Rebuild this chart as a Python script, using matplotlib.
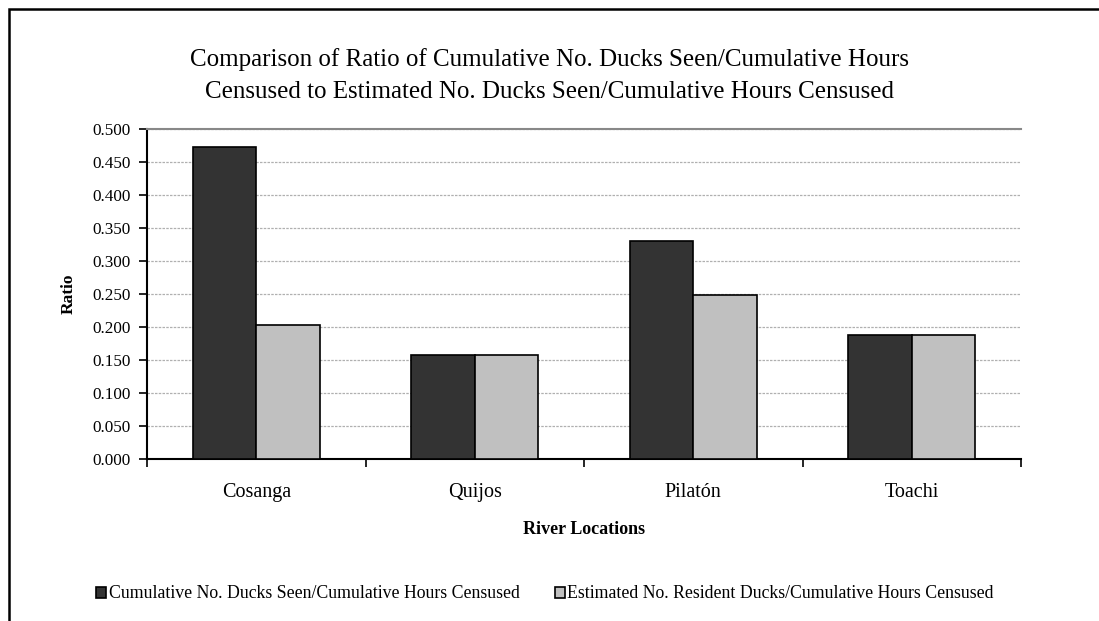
import matplotlib
matplotlib.use("Agg")
import matplotlib.pyplot as plt
import numpy as np
from matplotlib.patches import Rectangle

plt.rcParams["font.family"] = ["Liberation Serif", "DejaVu Serif"]

rivers = ["Cosanga", "Quijos", "Pilatón", "Toachi"]
seen_per_hour = [0.472, 0.157, 0.330, 0.188]
resident_per_hour = [0.203, 0.157, 0.248, 0.188]
series_names = [
    "Cumulative No. Ducks Seen/Cumulative Hours Censused",
    "Estimated No. Resident Ducks/Cumulative Hours Censused",
]
yticks = [0.0, 0.05, 0.1, 0.15, 0.2, 0.25, 0.3, 0.35, 0.4, 0.45, 0.5]

W, H = 1099, 621
fig = plt.figure(figsize=(W / 100, H / 100), dpi=100)
ax = fig.add_axes([147 / W, 1 - 459 / H, (1021 - 147) / W, (459 - 129) / H])

x = np.arange(len(rivers))
bw = 0.29
ax.bar(x - bw / 2, seen_per_hour, bw, color="#333333", edgecolor="black", linewidth=1.2,
       label=series_names[0], zorder=3)
ax.bar(x + bw / 2, resident_per_hour, bw, color="#c0c0c0", edgecolor="black", linewidth=1.2,
       label=series_names[1], zorder=3)

ax.set_xlim(-0.5, len(rivers) - 0.5)
ax.set_ylim(0, 0.5)
ax.set_yticks(yticks)
ax.set_yticklabels([f"{v:.3f}" for v in yticks], fontsize=12.3)
ax.set_xticks(x)
ax.set_xticklabels(rivers, fontsize=14.5)
ax.set_xticks(np.arange(len(rivers) + 1) - 0.5, minor=True)
ax.tick_params(axis="x", which="major", length=0, pad=17)
ax.tick_params(axis="x", which="minor", length=6, width=1.2, direction="out")
ax.tick_params(axis="y", length=6, width=1.2, direction="out", pad=6)

ax.yaxis.grid(True, color="#b0b0b0", linestyle=(0, (2, 1)), linewidth=0.9, zorder=0)
for s in ["left", "bottom"]:
    ax.spines[s].set_linewidth(1.5)
ax.spines["right"].set_visible(False)
ax.spines["top"].set_color("#888888")
ax.spines["top"].set_linewidth(1.5)

ax.set_ylabel("Ratio", fontsize=12.5, fontweight="bold", labelpad=11)
ax.set_xlabel("River Locations", fontsize=13, fontweight="bold", labelpad=14)

title_lines = [
    "Comparison of Ratio of Cumulative No. Ducks Seen/Cumulative Hours",
    "Censused to Estimated No. Ducks Seen/Cumulative Hours Censused",
]
fig.text(0.5, 1 - 60 / H, title_lines[0], ha="center", va="center", fontsize=18)
fig.text(0.5, 1 - 92 / H, title_lines[1], ha="center", va="center", fontsize=18)

fig.legend(loc="center", bbox_to_anchor=(545 / W, 1 - 594 / H), ncol=2, frameon=False,
           fontsize=12.8, handlelength=0.55, handleheight=0.55, handletextpad=0.15,
           columnspacing=2.0)

# outer chart frame, running off the right and bottom edges
fig.patches.append(Rectangle((9 / W, -0.1), 1.2, 1 - 9 / H + 0.1, transform=fig.transFigure,
                             fill=False, edgecolor="black", linewidth=1.8))

fig.savefig("out.png", dpi=100)
